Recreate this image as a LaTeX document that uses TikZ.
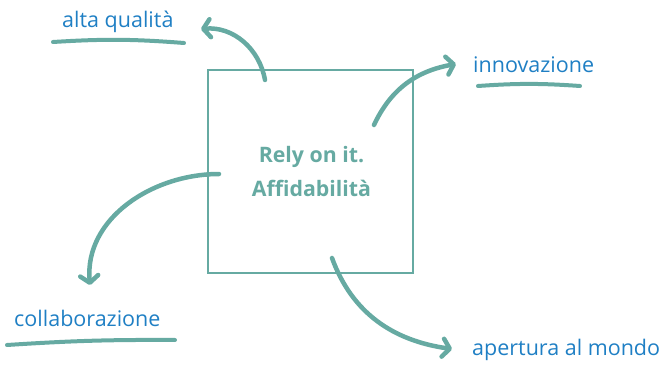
\documentclass[tikz,border=0pt]{standalone}
\usepackage{fontspec}
\setmainfont{Open Sans}
\usetikzlibrary{arrows.meta}
\definecolor{teal1}{HTML}{66AAA2}
\definecolor{blue1}{HTML}{1F7FC4}
\tikzset{
  conn/.style={draw=teal1, line width=4.5pt, line cap=round,
    -{Straight Barb[length=7pt,width=18pt,line cap=round,round]}},
  uline/.style={draw=teal1, line width=4pt, line cap=round},
  lbl/.style={text=blue1, font=\fontsize{21.5}{24}\selectfont, inner sep=0pt, anchor=base west},
  ctext/.style={text=teal1, font=\bfseries\fontsize{21.3}{34}\selectfont, inner sep=0pt, anchor=base},
  mainbox/.style={draw=teal1, line width=2pt, minimum width=205pt, minimum height=203pt, inner sep=0pt}
}
\begin{document}
\begin{tikzpicture}[x=1pt,y=1pt]
\useasboundingbox (0,0) rectangle (665,365);
\node[mainbox] (box) at (310.5,193.5) {};
\node[ctext] (c1) at (311.5,202) {Rely on it.};
\node[ctext] (c2) at (311.5,168) {Affidabilità};
\node[lbl] (alta) at (62,337) {alta qualità};
\node[lbl] (inno) at (473,292) {innovazione};
\node[lbl] (coll) at (14,39) {collaborazione};
\node[lbl] (aper) at (472,10) {apertura al mondo};
\coordinate (s1) at (265,285); \coordinate (t1) at (201,336);
\coordinate (s2) at (374,240); \coordinate (t2) at (456,301);
\coordinate (s3) at (219,191); \coordinate (t3) at (90,80);
\coordinate (s4) at (332,107); \coordinate (t4) at (452,16);
\draw[conn] (s1) to[out=100,in=5] (t1);
\draw[conn] (s2) to[out=65,in=190] (t2);
\draw[conn] (s3) to[out=180,in=95] (t3);
\draw[conn] (s4) to[out=-70,in=172] (t4);
\coordinate (u1a) at (53,323); \coordinate (u1b) at (184,322);
\coordinate (u2a) at (478,279); \coordinate (u2b) at (580,279);
\coordinate (u3a) at (7,20); \coordinate (u3b) at (175,25);
\draw[uline] (u1a) to[bend left=4] (u1b);
\draw[uline] (u2a) to[bend left=4] (u2b);
\draw[uline] (u3a) to[bend left=2] (u3b);
\end{tikzpicture}
\end{document}
